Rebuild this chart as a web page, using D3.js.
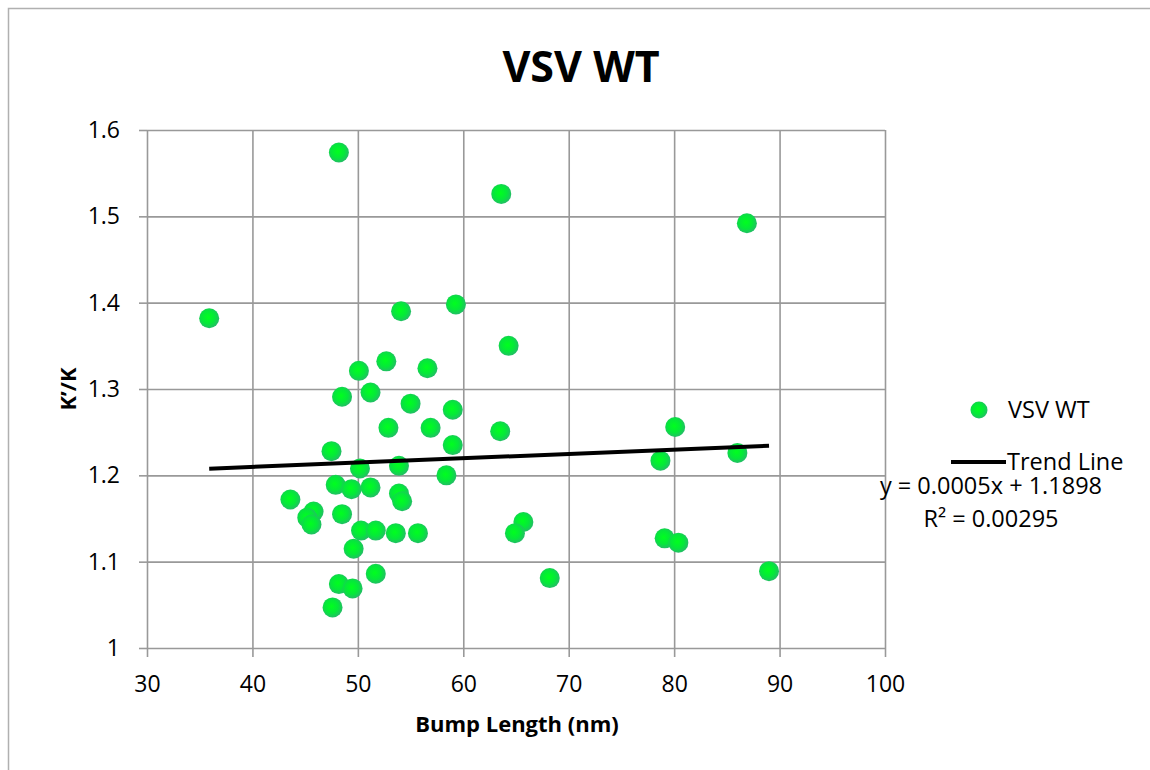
<!DOCTYPE html>
<html>
<head>
<meta charset="utf-8">
<script src="https://cdn.jsdelivr.net/npm/d3@7"></script>
<style>
    body { margin: 0; background: #fff; }
    text { font-family: "Open Sans", "Noto Sans", sans-serif; fill: #000; }
</style>
</head>
<body>
<div id="graph1"></div>
<script>
// data
var bumpLength = [48.2, 63.6, 35.9, 54.1, 59.3, 64.3, 52.7, 50.1, 56.6, 48.5,
    51.2, 55.0, 59.0, 52.9, 56.9, 63.5, 59.0, 47.5, 50.2, 53.9,
    58.4, 47.9, 49.4, 51.2, 53.9, 54.2, 43.6, 45.8, 45.2, 45.6,
    48.5, 50.3, 51.7, 53.6, 55.7, 49.6, 51.7, 48.2, 49.5, 47.6,
    86.9, 80.1, 78.7, 86.0, 65.7, 64.9, 68.2, 79.1, 80.4, 89.0];
var kRatio = [1.574, 1.526, 1.382, 1.390, 1.398, 1.350, 1.332, 1.321, 1.324, 1.291,
    1.296, 1.283, 1.276, 1.255, 1.255, 1.251, 1.235, 1.228, 1.208, 1.211,
    1.200, 1.189, 1.184, 1.186, 1.179, 1.170, 1.172, 1.158, 1.151, 1.143,
    1.155, 1.136, 1.136, 1.133, 1.133, 1.115, 1.086, 1.074, 1.069, 1.047,
    1.492, 1.256, 1.217, 1.226, 1.146, 1.133, 1.081, 1.127, 1.122, 1.089];
var xTicks = [30, 40, 50, 60, 70, 80, 90, 100];
var yTicks = [1, 1.1, 1.2, 1.3, 1.4, 1.5, 1.6];
var trendCoef = [0.0005, 1.1898];   // slope, intercept
var trendLabels = ["y = 0.0005x + 1.1898", "R\u00B2 = 0.00295"];

function loadJS() {
    plotScatter();
}

function plotScatter() {

    var W = 1150, H = 770;
    var margin = {top: 130, right: 265, bottom: 122, left: 147},
        width = W - margin.left - margin.right,
        height = H - margin.top - margin.bottom;

    var x = d3.scaleLinear().domain([30, 100]).range([0, width]);
    var y = d3.scaleLinear().domain([1, 1.6]).range([height, 0]);

    var root = d3.select("#graph1").append("svg")
        .attr("width", W)
        .attr("height", H);

    // point fill
    var grad = root.append("defs").append("radialGradient")
        .attr("id", "dotfill")
        .attr("cx", "45%").attr("cy", "45%").attr("r", "60%");
    grad.append("stop").attr("offset", "0%").attr("stop-color", "#00ff1e");
    grad.append("stop").attr("offset", "55%").attr("stop-color", "#05e83a");
    grad.append("stop").attr("offset", "100%").attr("stop-color", "#2ab56e");

    // chart frame (only top and left visible)
    root.append("path")
        .attr("d", "M8.5," + H + "V8.5H" + W)
        .attr("fill", "none")
        .attr("stroke", "#b0b0b0")
        .attr("stroke-width", 1.5);

    var svg = root.append("g")
        .attr("transform", "translate(" + margin.left + "," + margin.top + ")");

    // grid
    svg.append("g")
        .attr("class", "grid")
        .call(d3.axisBottom(x).tickValues(xTicks).tickSize(height).tickFormat(""));
    svg.append("g")
        .attr("class", "grid")
        .call(d3.axisLeft(y).tickValues(yTicks).tickSize(-width).tickFormat(""));

    // axes with outside tick marks
    svg.append("g")
        .attr("class", "axis")
        .attr("transform", "translate(0," + height + ")")
        .call(d3.axisBottom(x).tickValues(xTicks).tickSize(9).tickPadding(19));
    svg.append("g")
        .attr("class", "axis")
        .call(d3.axisLeft(y).tickValues(yTicks).tickSize(8).tickPadding(19).tickFormat(d3.format("")));

    svg.selectAll(".grid path, .axis path").remove();
    svg.selectAll(".grid line, .axis line")
        .attr("stroke", "#999")
        .attr("stroke-width", 1.6);
    svg.selectAll(".axis text")
        .style("font-size", "23px")
        .attr("fill", "#000");

    // scatter
    var data = bumpLength.map(function (d, i) {
        return {x: d, y: kRatio[i]};
    });
    svg.selectAll("dot")
        .data(data)
        .enter().append("circle")
        .attr("r", 10)
        .attr("cx", function (d) { return x(d.x); })
        .attr("cy", function (d) { return y(d.y); })
        .attr("fill", "url(#dotfill)");

    // trend line over the data range
    var ext = d3.extent(bumpLength);
    svg.append("line")
        .attr("x1", x(ext[0]))
        .attr("y1", y(trendCoef[0] * ext[0] + trendCoef[1]))
        .attr("x2", x(ext[1]))
        .attr("y2", y(trendCoef[0] * ext[1] + trendCoef[1]))
        .attr("stroke", "#000")
        .attr("stroke-width", 4);

    // title + axis labels
    root.append("text")
        .attr("x", 581).attr("y", 82)
        .attr("text-anchor", "middle")
        .style("font-size", "43px").style("font-weight", "bold")
        .text("VSV WT");
    root.append("text")
        .attr("x", 517).attr("y", 732)
        .attr("text-anchor", "middle")
        .style("font-size", "22px").style("font-weight", "bold")
        .text("Bump Length (nm)");
    root.append("text")
        .attr("transform", "translate(76,389) rotate(-90)")
        .attr("text-anchor", "middle")
        .style("font-size", "22px").style("font-weight", "bold")
        .text("K\u2019/K");

    // legend
    root.append("circle")
        .attr("cx", 979).attr("cy", 410).attr("r", 8.5)
        .attr("fill", "url(#dotfill)");
    root.append("text")
        .attr("x", 1008).attr("y", 418)
        .style("font-size", "23.5px")
        .text("VSV WT");
    root.append("line")
        .attr("x1", 951).attr("x2", 1006)
        .attr("y1", 462).attr("y2", 462)
        .attr("stroke", "#000").attr("stroke-width", 4);
    root.append("text")
        .attr("x", 1007).attr("y", 470)
        .style("font-size", "23.5px")
        .text("Trend Line");

    // trend equation
    root.selectAll(".eq")
        .data(trendLabels)
        .enter().append("text")
        .attr("class", "eq")
        .attr("x", 991)
        .attr("y", function (d, i) { return 494 + i * 33; })
        .attr("text-anchor", "middle")
        .style("font-size", "23.5px")
        .text(function (d) { return d; });
}

loadJS();
</script>
</body>
</html>
